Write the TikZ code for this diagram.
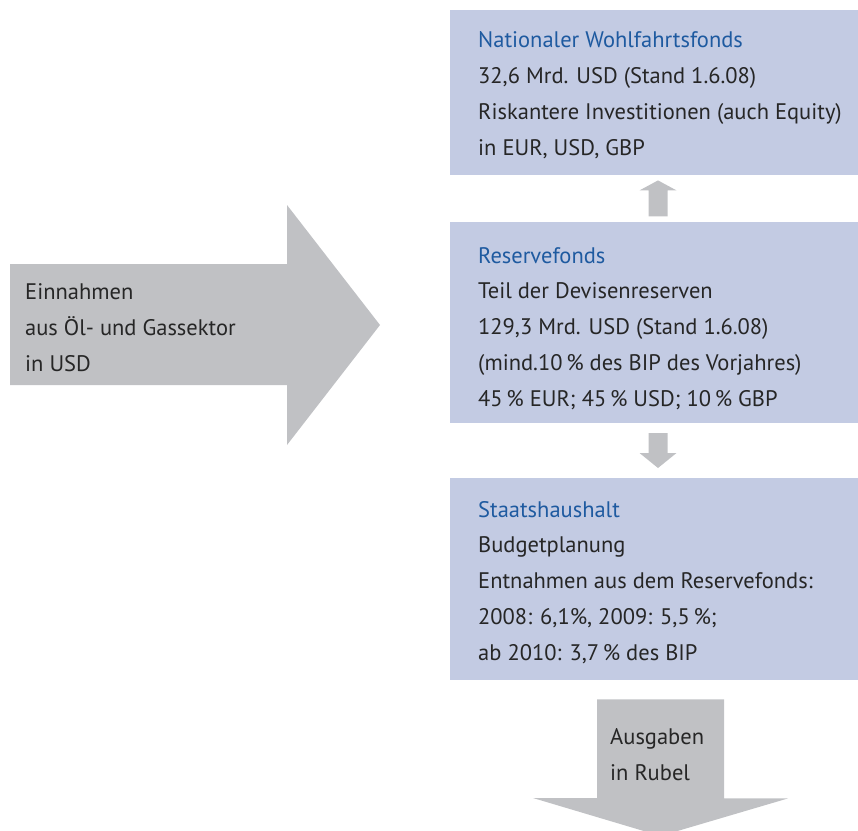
\documentclass[tikz,border=0pt]{standalone}
\usepackage{fontspec}
\setmainfont{PT Sans}
\usetikzlibrary{calc}
\definecolor{boxblue}{HTML}{C3CBE3}
\definecolor{arrgray}{HTML}{C0C1C4}
\definecolor{titleblue}{HTML}{1E5AA0}
\definecolor{txt}{HTML}{262626}
\tikzset{
  fbox/.style={fill=boxblue, draw=none, rectangle, inner sep=0pt, anchor=north west},
  btext/.style={anchor=base west, inner sep=0pt, align=left, text=txt,
     font=\fontsize{22.5}{35.7}\selectfont},
  blockarrow/.style={fill=arrgray, draw=none},
}
\newcommand{\ttl}[1]{\textcolor{titleblue}{#1}}
\begin{document}
\begin{tikzpicture}[x=1pt,y=-1pt]
\useasboundingbox (0,0) rectangle (858,830);
% boxes
\node[fbox, minimum width=408pt, minimum height=165pt] (nwf) at (450,10) {};
\node[fbox, minimum width=408pt, minimum height=201pt] (rf) at (450,222) {};
\node[fbox, minimum width=408pt, minimum height=202pt] (sh) at (450,478) {};
% left big arrow
\fill[blockarrow] (10,264) -- (287,264) -- (287,205) -- (380,325) -- (287,445) -- (287,385) -- (10,385) -- cycle;
\node[btext] (ein) at (25,371) {Einnahmen\\aus Öl- und Gassektor\\in USD};
% up arrow rf -> nwf
\fill[blockarrow] ($(nwf.south west)+(208,5)$) coordinate (uptip) -- ++(-18.5,10) -- ++(9,0) -- ++(0,26) -- ++(19,0) -- ++(0,-26) -- ++(9,0) -- cycle;
% down arrow rf -> sh
\fill[blockarrow] ($(sh.north west)+(208,-10)$) coordinate (dntip) -- ++(-18.5,-15) -- ++(9,0) -- ++(0,-20) -- ++(19,0) -- ++(0,20) -- ++(9,0) -- cycle;
% bottom arrow
\fill[blockarrow] ($(sh.south west)+(147,19)$) -- ++(127,0) -- ++(0,99) -- ++(64,0) -- (660.5,836) -- (533,798) -- ++(64,0) -- cycle;
\node[btext] (aus) at (610,780) {Ausgaben\\in Rubel};
% texts
\node[btext] (t1) at (478,155) {\ttl{Nationaler Wohlfahrtsfonds}\\32,6 Mrd. USD (Stand 1.6.08)\\Riskantere Investitionen (auch Equity)\\in EUR, USD, GBP};
\node[btext] (t2) at (478,406) {\ttl{Reservefonds}\\Teil der Devisenreserven\\129,3 Mrd. USD (Stand 1.6.08)\\(mind.10\,\% des BIP des Vorjahres)\\45\,\% EUR; 45\,\% USD; 10\,\% GBP};
\node[btext] (t3) at (478,660) {\ttl{Staatshaushalt}\\Budgetplanung\\Entnahmen aus dem Reservefonds:\\2008: 6,1\%, 2009: 5,5\,\%;\\ab 2010: 3,7\,\% des BIP};
\end{tikzpicture}
\end{document}
